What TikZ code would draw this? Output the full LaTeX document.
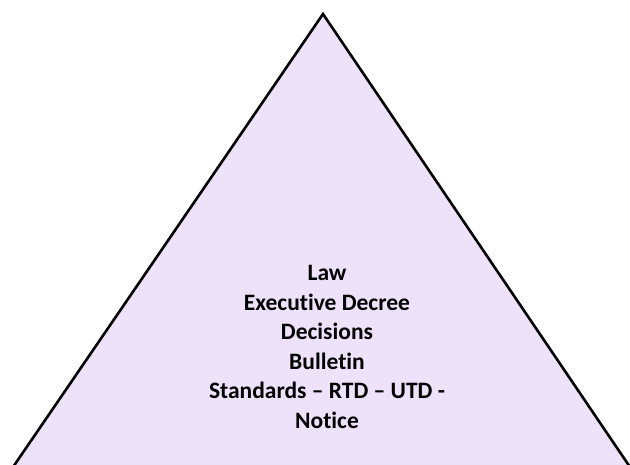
\documentclass[tikz,border=0pt]{standalone}
\usepackage{fontspec}
\setmainfont{Carlito}[RawFeature=-liga]
\definecolor{pyrfill}{RGB}{238,226,251}
\tikzset{
  pyramid/.style={draw=black, line width=2.6pt, fill=pyrfill, line join=miter},
  tiers/.style={align=center, font=\fontsize{23.5}{29.6}\selectfont\bfseries, text=black, inner sep=0pt}
}
\begin{document}
\begin{tikzpicture}[x=1pt,y=-1pt]
  \useasboundingbox (0,0) rectangle (630,464);
  \clip (0,0) rectangle (630,464);
  % apex and base corners (base lies just below the lower edge)
  \coordinate (apex) at (323,14);
  \coordinate (bl) at (11,470);
  \coordinate (br) at (632,470);
  \draw[pyramid] (apex) -- (br) -- (bl) -- cycle;
  \node[tiers] (levels) at (327,347)
    {Law\\Executive Decree\\Decisions\\Bulletin\\Standards -- RTD -- UTD -\\Notice};
\end{tikzpicture}
\end{document}
